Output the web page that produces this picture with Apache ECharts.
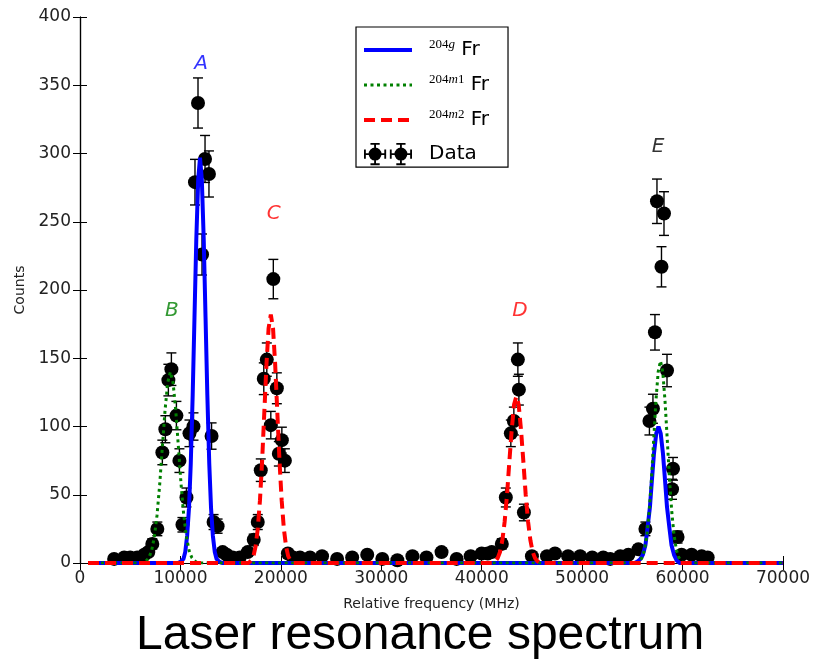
<!DOCTYPE html>
<html>
<head>
<meta charset="utf-8">
<title>Laser resonance spectrum</title>
<script src="https://cdn.jsdelivr.net/npm/echarts@6/dist/echarts.min.js"></script>
</head>
<body style="margin:0; background:#fff">
<div id="chart" style="width:823px;height:660px"></div>
<script>
// measured points (relative frequency in MHz, counts)
const freqMHz = [3400, 4400, 5000, 5700, 6400, 6800, 7200, 7700, 8200, 8500, 8800, 9100, 9600, 9900,
  10200, 10600, 10900, 11300, 11450, 11750, 12150, 12450, 12840, 13100, 13300, 13700, 14200, 14600,
  15200, 15900, 16700, 17300, 17700, 18000, 18300, 18600, 19000, 19250, 19600, 19800, 20100, 20400,
  20700, 21200, 21900, 22900, 24100, 25600, 27100, 28600, 30100, 31600, 33100, 34500, 36000, 37500,
  38900, 40000, 40600, 41000, 42000, 42400, 42900, 43200, 43600, 43700, 44200, 45000, 46500, 47300,
  48600, 49800, 51000, 52100, 52800, 53800, 54600, 55600, 56300, 56700, 57050, 57250, 57450, 57900,
  58150, 58450, 58950, 59050, 59500, 59900, 60900, 61900, 62500];
const counts = [3, 4, 4, 4, 6, 8, 14, 25, 81, 98, 134, 142, 108, 75,
  28, 48, 95, 100, 279, 337, 226, 296, 285, 93, 30, 27, 8, 6,
  4, 4, 8, 17, 30, 68, 135, 149, 101, 208, 128, 80, 90, 75,
  7, 4, 4, 4, 5, 3, 4, 6, 3, 2, 5, 4, 8, 3,
  5, 7, 7, 8, 14, 48, 95, 104, 149, 127, 37, 5, 5, 7,
  5, 5, 4, 4, 3, 5, 6, 10, 25, 104, 113, 169, 265, 217,
  256, 141, 54, 69, 19, 6, 6, 5, 4];

// fitted curves: [MHz, counts]
const fit204g = [[800, 0], [9750, 0], [10050, 1], [10300, 3], [10480, 8], [10670, 20], [10850, 40],
  [11030, 73], [11220, 123], [11400, 180], [11580, 237], [11770, 281], [11950, 297], [12130, 281],
  [12320, 237], [12500, 180], [12680, 123], [12870, 73], [13050, 40], [13230, 20], [13420, 8],
  [13600, 3], [13850, 1], [14150, 0], [55200, 0], [55500, 1], [55800, 3], [56050, 6], [56300, 13],
  [56500, 25], [56750, 41], [56950, 61], [57150, 80], [57380, 95], [57600, 100], [57820, 95],
  [58050, 80], [58250, 61], [58450, 41], [58700, 25], [58900, 13], [59150, 6], [59400, 2],
  [59700, 0], [70000, 0]];
const fit204m1 = [[800, 0], [6300, 0], [6600, 1.6], [6870, 4], [7130, 9], [7400, 19], [7670, 35],
  [7930, 57], [8200, 85], [8470, 112], [8730, 132], [9000, 140], [9270, 132], [9530, 112],
  [9800, 85], [10070, 57], [10330, 35], [10600, 19], [10870, 9], [11130, 4], [11400, 1.6],
  [11700, 0], [55500, 0], [55760, 1.6], [55990, 4.3], [56210, 9.6], [56440, 20], [56670, 37],
  [56890, 60], [57120, 90], [57350, 119], [57570, 140], [57800, 148], [58030, 140], [58250, 119],
  [58480, 90], [58710, 60], [58930, 37], [59160, 20], [59390, 9.6], [59610, 4.3], [59840, 1.6],
  [60150, 0], [70000, 0]];
const fit204m2 = [[800, 0], [16800, 0], [17050, 2], [17270, 5], [17480, 12], [17700, 25], [17920, 46],
  [18130, 74], [18350, 110], [18570, 146], [18780, 172], [19000, 182], [19220, 172], [19430, 146],
  [19650, 110], [19870, 74], [20080, 46], [20300, 25], [20520, 12], [20730, 5], [20950, 2],
  [21250, 0], [41100, 0], [41350, 1.3], [41580, 3.4], [41820, 8], [42050, 16.5], [42280, 30],
  [42520, 50], [42750, 74], [42980, 97], [43220, 116], [43450, 122], [43680, 116], [43920, 97],
  [44150, 74], [44380, 50], [44620, 30], [44850, 16.5], [45080, 8], [45320, 3.4], [45550, 1.3],
  [45850, 0], [70000, 0]];

// peak letters and where they sit (data coordinates)
const peakLetters = ['A', 'B', 'C', 'D', 'E'];
const peakFreq = [12050, 9150, 19300, 43800, 57550];
const peakCounts = [366, 185, 256, 185, 305];

const letterColor = { A: '#0000ff', B: '#008000', C: '#ff0000', D: '#ff0000', E: '#000000' };

const points = freqMHz.map((f, i) => [f, counts[i]]);
const errPoints = freqMHz.map((f, i) => [f, counts[i], Math.sqrt(counts[i])]);

const dataIcon = 'path://' +
  'M0 11H24V13H0Z M11 0H13V24H11Z M0 7H2V17H0Z M22 7H24V17H22Z M7 0H17V2H7Z M7 22H17V24H7Z ' +
  'M19 12A7 7 0 1 1 5 12A7 7 0 1 1 19 12Z ' +
  'M28 11H52V13H28Z M39 0H41V24H39Z M28 7H30V17H28Z M50 7H52V17H50Z M35 0H45V2H35Z M35 22H45V24H35Z ' +
  'M47 12A7 7 0 1 1 33 12A7 7 0 1 1 47 12Z';

const tickFont = { fontFamily: 'DejaVu Sans', fontSize: 17, color: '#222' };
const hideSymbol = { opacity: 0 };

const chart = echarts.init(document.getElementById('chart'));

chart.setOption({
  animation: false,
  backgroundColor: '#fff',
  title: {
    text: 'Laser resonance spectrum',
    left: 131,
    top: 607,
    textStyle: { fontFamily: 'Liberation Sans', fontSize: 48, fontWeight: 'normal', color: '#000' }
  },
  grid: { left: 80, right: 40, top: 17, bottom: 97 },
  legend: {
    orient: 'vertical',
    left: 356,
    top: 27,
    padding: [11, 19, 2, 6],
    itemGap: 13,
    itemWidth: 48,
    itemHeight: 24,
    borderColor: '#000',
    borderWidth: 1.2,
    selectedMode: false,
    lineStyle: { width: 'inherit', type: 'inherit' },
    data: [
      { name: '204g Fr', itemStyle: hideSymbol },
      { name: '204m1 Fr', itemStyle: hideSymbol },
      { name: '204m2 Fr', itemStyle: hideSymbol },
      { name: 'Data', icon: dataIcon }
    ],
    formatter: function (name) {
      if (name === 'Data') return '{pad|}{txt|Data}';
      const iso = name.split(' ')[0];
      const tag = iso.slice(3);
      const letters = tag.replace(/[0-9]/g, '');
      const digits = tag.replace(/[a-z]/g, '');
      return '{pad|}{sup|204}{supi|' + letters + '}' + (digits ? '{sup|' + digits + '}' : '') + '{txt| Fr}';
    },
    textStyle: {
      color: '#000',
      rich: {
        pad: { width: 12 },
        sup: { fontFamily: 'Liberation Serif', fontSize: 13, verticalAlign: 'top', color: '#000' },
        supi: { fontFamily: 'Liberation Serif', fontStyle: 'italic', fontSize: 13, verticalAlign: 'top', color: '#000' },
        txt: { fontFamily: 'DejaVu Sans', fontSize: 20, lineHeight: 24, color: '#000' }
      }
    }
  },
  xAxis: [{
    type: 'value',
    min: 0, max: 70000, interval: 10000,
    name: 'Relative frequency (MHz)',
    nameLocation: 'middle',
    nameGap: 34,
    nameMoveOverlap: false,
    nameTextStyle: { fontFamily: 'DejaVu Sans', fontSize: 14, color: '#222' },
    axisLine: { lineStyle: { color: '#000', width: 1.2 } },
    axisTick: { inside: true, length: 7, lineStyle: { color: '#000' } },
    axisLabel: Object.assign({ margin: 7, formatter: v => String(v) }, tickFont),
    splitLine: { show: false }
  }, {
    type: 'value', position: 'top',
    min: 0, max: 70000, interval: 10000,
    axisLine: { lineStyle: { color: '#000', width: 1.2 } },
    axisTick: { inside: true, length: 7, lineStyle: { color: '#000' } },
    axisLabel: { show: false },
    splitLine: { show: false }
  }],
  yAxis: [{
    type: 'value',
    min: 0, max: 400, interval: 50,
    name: 'Counts',
    nameLocation: 'middle',
    nameGap: 53,
    nameMoveOverlap: false,
    nameTextStyle: { fontFamily: 'DejaVu Sans', fontSize: 14, color: '#222' },
    axisLine: { show: true, lineStyle: { color: '#000', width: 1.2 } },
    axisTick: { show: true, inside: true, length: 7, lineStyle: { color: '#000' } },
    axisLabel: Object.assign({ margin: 9, formatter: v => String(v) }, tickFont),
    splitLine: { show: false }
  }, {
    type: 'value', position: 'right',
    min: 0, max: 400, interval: 50,
    axisLine: { show: true, lineStyle: { color: '#000', width: 1.2 } },
    axisTick: { show: true, inside: true, length: 7, lineStyle: { color: '#000' } },
    axisLabel: { show: false },
    splitLine: { show: false }
  }],
  series: [
    {
      name: 'Data errors',
      type: 'custom',
      z: 2,
      data: errPoints,
      encode: { x: 0, y: 1 },
      renderItem: function (params, api) {
        const x = api.value(0), y = api.value(1), e = api.value(2);
        const hi = api.coord([x, y + e]);
        const lo = api.coord([x, y - e]);
        const cap = 5;
        const style = { stroke: '#000', lineWidth: 1.4 };
        return {
          type: 'group',
          children: [
            { type: 'line', shape: { x1: hi[0], y1: hi[1], x2: lo[0], y2: lo[1] }, style: style },
            { type: 'line', shape: { x1: hi[0] - cap, y1: hi[1], x2: hi[0] + cap, y2: hi[1] }, style: style },
            { type: 'line', shape: { x1: lo[0] - cap, y1: lo[1], x2: lo[0] + cap, y2: lo[1] }, style: style }
          ]
        };
      }
    },
    {
      name: 'Data',
      type: 'scatter',
      z: 3,
      symbol: 'circle',
      symbolSize: 14,
      itemStyle: { color: '#000', opacity: 1 },
      data: points
    },
    {
      name: '204g Fr',
      type: 'line',
      z: 4,
      symbol: 'none',
      showSymbol: false,
      color: '#0000ff',
      lineStyle: { color: '#0000ff', width: 4 },
      data: fit204g
    },
    {
      name: '204m1 Fr',
      type: 'line',
      z: 5,
      symbol: 'none',
      showSymbol: false,
      color: '#008000',
      lineStyle: { color: '#008000', width: 3, type: [3, 3.5] },
      data: fit204m1
    },
    {
      name: '204m2 Fr',
      type: 'line',
      z: 6,
      symbol: 'none',
      showSymbol: false,
      color: '#ff0000',
      lineStyle: { color: '#ff0000', width: 4, type: [11, 6] },
      data: fit204m2
    },
    {
      name: 'Peaks',
      type: 'scatter',
      z: 7,
      silent: true,
      symbolSize: 0,
      data: peakLetters.map((p, i) => ({
        name: p,
        value: [peakFreq[i], peakCounts[i]],
        label: { color: letterColor[p] }
      })),
      label: {
        show: true,
        position: 'inside',
        formatter: '{b}',
        fontFamily: 'DejaVu Sans',
        fontStyle: 'italic',
        fontSize: 20
      }
    }
  ]
});
</script>
</body>
</html>
